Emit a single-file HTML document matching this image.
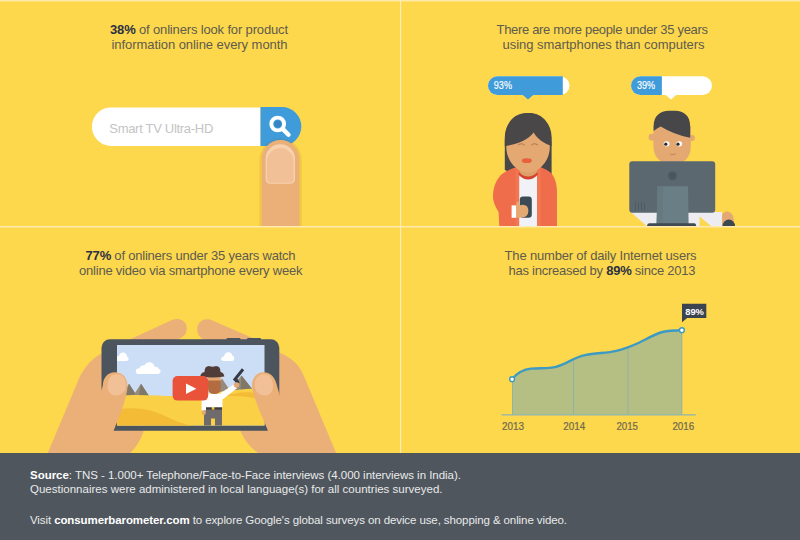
<!DOCTYPE html>
<html><head><meta charset="utf-8">
<style>
html,body{margin:0;padding:0;background:#FDD74C;}
body{width:800px;height:540px;overflow:hidden;font-family:"Liberation Sans",sans-serif;}
svg{display:block;font-family:"Liberation Sans",sans-serif;}
.t{font-size:13px;fill:#5E5C4E;}
.b{font-weight:bold;fill:#2C3143;}
.f{font-size:11.5px;fill:#E9EAEB;}
.fb{font-weight:bold;fill:#FFFFFF;}
.yr{font-size:10px;fill:#6E6A4E;stroke:#6E6A4E;stroke-width:0.2px;}
</style></head>
<body>
<svg width="800" height="540" viewBox="0 0 800 540">
<rect width="800" height="540" fill="#FDD74C"/>
<!-- dividers -->
<rect x="0" y="0" width="800" height="1.5" fill="#FFE9A6"/>
<rect x="0" y="226" width="800" height="1.5" fill="#FFEBB0"/>
<rect x="400" y="0" width="1.2" height="453" fill="#FFEBB8"/>

<!-- TL text -->
<text class="t" x="110" y="34" textLength="178" lengthAdjust="spacing"><tspan class="b">38%</tspan> of onliners look for product</text>
<text class="t" x="111.5" y="49" textLength="176" lengthAdjust="spacing">information online every month</text>
<!-- TR text -->
<text class="t" x="496.5" y="34" textLength="211.5" lengthAdjust="spacing">There are more people under 35 years</text>
<text class="t" x="502.5" y="49" textLength="202" lengthAdjust="spacing">using smartphones than computers</text>
<!-- BL text -->
<text class="t" x="85.6" y="260" textLength="210" lengthAdjust="spacing"><tspan class="b">77%</tspan> of onliners under 35 years watch</text>
<text class="t" x="79" y="275" textLength="223.5" lengthAdjust="spacing">online video via smartphone every week</text>
<!-- BR text -->
<text class="t" x="504.6" y="260" textLength="192" lengthAdjust="spacing">The number of daily Internet users</text>
<text class="t" x="508.5" y="275" textLength="187" lengthAdjust="spacing">has increased by <tspan class="b">89%</tspan> since 2013</text>

<!-- SEARCH -->
<g id="search">
<path d="M111.2 107.4 H260.5 V146 H111.2 A19.3 19.3 0 0 1 111.2 107.4Z" fill="#FFFFFF"/>
<path d="M260.5 107 H281.8 A19.5 19.5 0 0 1 281.8 146 H260.5Z" fill="#3F9BD9"/>
<text x="109.3" y="132.6" font-size="13" fill="#C4C4C4" textLength="104" lengthAdjust="spacing">Smart TV Ultra-HD</text>
<circle cx="277.7" cy="124" r="6.4" fill="none" stroke="#FFFFFF" stroke-width="3.9"/>
<circle cx="277.7" cy="124" r="3.4" fill="#3585C3"/>
<path d="M283.4 129.6 L288.5 134.8" stroke="#FFFFFF" stroke-width="4.4" stroke-linecap="round"/>
<!-- finger -->
<path d="M259.2 226 V160.5 A21.3 22.3 0 0 1 301.8 160.5 V226Z" fill="#8A5A00" fill-opacity="0.10"/>
<path d="M261.6 226 V159.6 A18.9 19.6 0 0 1 299.4 159.6 V226Z" fill="#EAB078"/>
<path d="M265.6 179.2 V158.6 A14.7 14.4 0 0 1 295 158.6 V179.2 A4.6 4.6 0 0 1 290.4 183.8 H270.2 A4.6 4.6 0 0 1 265.6 179.2Z" fill="#F6D2AF"/>
<path d="M266.9 179 V161.6 A13.4 13.6 0 0 1 293.7 161.6 V179 A3.6 3.6 0 0 1 290.1 182.8 H270.5 A3.6 3.6 0 0 1 266.9 179Z" fill="#F1C097"/>
</g>


<!-- BUBBLES -->
<g id="bubbles">
<rect x="488" y="76.3" width="81.5" height="18.8" rx="9.4" fill="#FFFFFF"/>
<path d="M497.4 76.3 H562.8 V95.1 H497.4 A9.4 9.4 0 0 1 497.4 76.3Z" fill="#3F9BD9"/>
<path d="M522.5 94.8 H533.5 L528 99.6Z" fill="#3F9BD9"/>
<text x="493.8" y="88.9" font-size="10.4" fill="#FFFFFF" stroke="#FFFFFF" stroke-width="0.15" textLength="18.2" lengthAdjust="spacingAndGlyphs">93%</text>
<rect x="631" y="76.3" width="81" height="18.8" rx="9.4" fill="#FFFFFF"/>
<path d="M640.4 76.3 H661.9 V95.1 H640.4 A9.4 9.4 0 0 1 640.4 76.3Z" fill="#3F9BD9"/>
<path d="M665.5 94.8 H676.5 L671 99.6Z" fill="#FFFFFF"/>
<text x="637" y="88.9" font-size="10.4" fill="#FFFFFF" stroke="#FFFFFF" stroke-width="0.15" textLength="18.2" lengthAdjust="spacingAndGlyphs">39%</text>
</g>

<!-- GIRL -->
<g id="girl">
<!-- back hair -->
<path d="M504.8 170 V137 A23.4 24 0 0 1 551.6 137 V174.5 L540 176 H515 L507 171Z" fill="#4A4749"/>
<!-- jacket -->
<path d="M499.3 226 L498.6 212 C494.5 206 492.6 200 493 195 C493.4 186 497 178.5 502 174 C506 171 511 169 515 167.5 L540.5 167 C545 169 549 171 551.5 173.5 C555.5 178.5 557 185 557 192.5 V226Z" fill="#EF6D4A"/>
<path d="M515.6 168 H519.2 V226 H515.6Z" fill="#F27651"/>
<path d="M537 168 H540.8 V226 H537Z" fill="#F27651"/>
<!-- shirt -->
<path d="M519.2 174 H537 V226 H519.2Z" fill="#F1F2F7"/>
<!-- neck + collar -->
<path d="M519.5 163 H537.2 V172.5 Q528 182 519.5 172.5Z" fill="#DE9F6A"/>
<path d="M518.8 172 Q528 181 537.6 172 L537.6 175 Q528 184 518.8 175Z" fill="#D4432E"/>
<!-- face -->
<path d="M506.3 138 C506.3 128 514 124 528 124 C542 124 549.8 128 549.8 138 L549.8 147 C549.8 160 540 172.4 528 172.4 C516 172.4 506.3 160 506.3 147Z" fill="#E4A973"/>
<!-- bangs -->
<path d="M504.8 146 C504.3 124 512 113 528 113 C544 113 552 124 551.6 146 C545 144 537 139 533.6 132.5 C528 140 516 145 504.8 146Z" fill="#4A4749"/>
<!-- eyes -->
<path d="M518.6 144.8 Q521.4 142.8 524.2 144.8" stroke="#B77E4E" stroke-width="1.1" fill="none" stroke-linecap="round"/>
<path d="M531.8 144.8 Q534.6 142.8 537.4 144.8" stroke="#B77E4E" stroke-width="1.1" fill="none" stroke-linecap="round"/>
<!-- lips -->
<ellipse cx="526.8" cy="160.7" rx="5" ry="2.4" fill="#E8603C"/>
<!-- phone -->
<rect x="519.8" y="196.6" width="12" height="21.1" rx="3.2" fill="#3C4A55"/>
<!-- cuff & hand -->
<rect x="511.6" y="205.4" width="4.8" height="12.4" fill="#FFFFFF"/>
<path d="M516.2 205.6 L516.6 202.5 Q517.8 200.6 519.2 202.5 L519.6 205.6 Q521 204.8 522.6 204.8 Q528.4 205 528.4 210.8 Q528.2 217 522 217.6 L516.2 217.8Z" fill="#E4A973"/>
</g>


<!-- MAN -->
<g id="man">
<!-- ears -->
<circle cx="652" cy="137.2" r="3.4" fill="#E4A973"/>
<circle cx="692" cy="138" r="2.9" fill="#E4A973"/>
<!-- face -->
<path d="M653.4 126 H690.8 V146 C690.8 156 686 164 672 164 C659 164 653.4 156 653.4 146Z" fill="#E4A973"/>
<!-- hair -->
<path d="M653.6 131 V126.5 C653.6 116 660 110.8 669 110.8 H675 C684 110.8 690.2 116 690.2 126.5 V137.8 Q674 134.5 660.7 126.4 Q657 128 653.6 131Z" fill="#474648"/>
<!-- eyes -->
<ellipse cx="666.6" cy="143.8" rx="2.9" ry="2.6" fill="#FFFFFF"/>
<ellipse cx="679.2" cy="143.8" rx="2.9" ry="2.6" fill="#FFFFFF"/>
<circle cx="665.8" cy="144.2" r="1.6" fill="#2A2A2E"/>
<circle cx="678" cy="144.2" r="1.6" fill="#2A2A2E"/>
<path d="M670.5 154.2 Q673 155.3 675.5 153.8" stroke="#C98A57" stroke-width="1.2" fill="none" stroke-linecap="round"/>
<!-- arms/shirt -->
<path d="M632 212 H722 V226 H711 L699.6 216.5 V226 H646.5 L632 213Z" fill="#ECECF1"/>
<!-- hand & mouse -->
<path d="M722 226 V216 Q722.5 211.5 727.5 211.5 Q734 212.5 733.8 222 V226Z" fill="#E4A973"/>
<path d="M722.6 226 A6.2 6.4 0 0 1 735 226Z" fill="#3D4750"/>
<!-- monitor -->
<rect x="629.3" y="161.2" width="85.9" height="51.6" rx="3" fill="#5B6870"/>
<circle cx="672.5" cy="175.8" r="4.6" fill="#4E5A62"/>
<circle cx="672.5" cy="175.8" r="2.2" fill="#48535B"/>
<g stroke="#4E5A62" stroke-width="1">
<path d="M635.5 201.5 V210.5 M638.5 203 V210.5 M641.5 201.5 V210.5 M644.5 203 V210.5"/>
</g>
<!-- stand -->
<path d="M657.5 186.3 H688 L688.6 224 H656.6Z" fill="#6A7E85"/>
<path d="M657.5 186.3 H663 L662.5 224 H656.6Z" fill="#66797F"/>
<path d="M649 223.2 H694.5 Q696 223.2 696.2 226 H647 Q647.3 223.2 649 223.2Z" fill="#3F4951"/>
</g>

<!-- CHART -->
<g id="chart">
<path d="M512 379.2 C518 372 524 369.2 531 368.6 C541 367.8 548 368.8 556 366.8 C566 364.2 574 357.5 585 355.2 C596 352.8 606 353.2 616.5 350.8 C625 348.8 632 346 639.5 342.5 C648 338.2 655 334 662.5 332 C669 330.3 675 330.2 682 330.2 V415 H512Z" fill="#B5BF84"/>
<g stroke="#8FB3A4" stroke-width="1">
<path d="M573.5 359.5 V415 M628 347.5 V415 M512.5 379 V415 M681.8 331 V415"/>
</g>
<rect x="501.5" y="414.2" width="194.3" height="1.3" fill="#93B6AC"/>
<path d="M512 379.2 C518 372 524 369.2 531 368.6 C541 367.8 548 368.8 556 366.8 C566 364.2 574 357.5 585 355.2 C596 352.8 606 353.2 616.5 350.8 C625 348.8 632 346 639.5 342.5 C648 338.2 655 334 662.5 332 C669 330.3 675 330.2 682 330.2" fill="none" stroke="#3D9AC2" stroke-width="2.4" stroke-linecap="round"/>
<circle cx="512.1" cy="379.2" r="2.4" fill="#FFFFFF" stroke="#3D9AC2" stroke-width="1.4"/>
<circle cx="681.9" cy="330.2" r="2.4" fill="#FFFFFF" stroke="#3D9AC2" stroke-width="1.4"/>
<path d="M682 303.8 H706.3 V318 H687.2 L682 322.3Z" fill="#3B4351"/>
<text x="685.2" y="314.5" font-size="9.9" font-weight="bold" fill="#FFFFFF" textLength="18.7" lengthAdjust="spacingAndGlyphs">89%</text>
<text class="yr" x="502" y="430.4" textLength="22" lengthAdjust="spacingAndGlyphs">2013</text>
<text class="yr" x="563.3" y="430.4" textLength="21.8" lengthAdjust="spacingAndGlyphs">2014</text>
<text class="yr" x="616.5" y="430.4" textLength="21.5" lengthAdjust="spacingAndGlyphs">2015</text>
<text class="yr" x="672.4" y="430.4" textLength="21.8" lengthAdjust="spacingAndGlyphs">2016</text>
</g>


<!-- PHONE + HANDS -->
<g id="phone">
<defs><clipPath id="scr"><rect x="117" y="345" width="147.5" height="80.6"/></clipPath>
<clipPath id="q3"><rect x="0" y="228" width="400" height="225.5"/></clipPath></defs>
<g clip-path="url(#q3)">
<!-- left hand back: index finger + palm -->
<path d="M172.5 319.8 C178 317.6 184.4 319.6 186.2 325 C188 330.6 185.6 336 180 338.4 L160 347 H132 L128.2 340.2Z" fill="#EAB077"/>
<path d="M106 351.5 C98 354.5 90.5 360.5 85.5 367.5 C82.5 371.5 80.5 375 79 378.5 L47.6 453.5 H130 C136 447 141 440 143.5 431 L120 360Z" fill="#EAB077"/>
<!-- right hand back -->
<path d="M210 319.6 C204 318 198.4 321.4 197.3 327.4 C196.4 333.4 200 338.6 206 340.4 L225 347 H254 L256.5 339.8Z" fill="#EAB077"/>
<path d="M275 351 C284 354 292 358.5 297.5 365 C300.5 369 302.8 373 304.3 377 L336.3 453.5 H258.5 C250 447 244 440 240.5 431 L262 360Z" fill="#EAB077"/>
<!-- phone body -->
<rect x="226.5" y="338" width="14" height="3" rx="1" fill="#4C545D"/>
<rect x="247" y="338" width="14" height="3" rx="1" fill="#4C545D"/>
<rect x="101.5" y="339.3" width="177.8" height="91.4" rx="8.5" fill="#4C545D"/>
<!-- screen -->
<g clip-path="url(#scr)">
<rect x="117" y="345" width="148" height="81" fill="#CCDDF6"/>
<!-- mountains -->
<path d="M121.5 396 L129 383.8 L135 393 L141 383.8 L149 396Z" fill="#948B7C"/>
<path d="M129 383.8 L135 393 L133 396 H126Z" fill="#7F7768"/>
<path d="M141 383.8 L149 396 H139Z" fill="#7F7768"/>
<path d="M213 392 L222 378.5 L231 392Z" fill="#948B7C"/>
<path d="M228 392 L241.5 375.4 L254.5 392Z" fill="#948B7C"/>
<path d="M241.5 375.4 L254.5 392 H240.5Z" fill="#7F7768"/>
<!-- sand -->
<path d="M117 396 C140 393.5 160 396.5 180 396 C205 395.3 235 388 265 388.5 V426 H117Z" fill="#FAD046"/>
<path d="M117 409.5 C135 406.5 150 409 165 416 C175 420.5 183 424.5 195 426 H117Z" fill="#F4BC36"/>
<path d="M225 396 C240 391 252 391.5 265 395 V401 C250 396 238 396 225 396Z" fill="#F4BC36"/>
<!-- clouds -->
<g fill="#FFFFFF">
<path d="M114 361 Q114 356 119 356 Q120 352 123.5 352.5 Q127 353 127 356.5 Q129 357.5 128.5 359.5 Q128 361 126 361Z"/>
<path d="M138.5 374 Q135.5 374 135.8 371 Q136 368.5 139.5 368.3 Q140.5 364.8 144.5 365.2 Q146 361.8 150 362.2 Q154 362.8 154.5 366.8 Q158 366.5 159 369 Q161 369.5 160.5 372 Q160 374 157.5 374Z"/>
<path d="M223.5 361 Q221 361 221.2 358.6 Q221.5 356.5 224 356.5 Q224.5 352.8 228 352.2 Q231.5 352 232.3 355.5 Q234.5 356 234.3 358.8 Q234 361 232 361Z"/>
</g>
<!-- cowboy -->
<g id="cowboy">
<!-- gun -->
<path d="M232.9 379.4 L241.9 368.3 L244.2 370.2 L237.4 378.8 L239.6 382.4 L237 384.2 L234.6 381.2Z" fill="#353A46"/>
<!-- raised arm -->
<path d="M220.5 393 L234 384.6 L237 388.2 L222.5 399.5Z" fill="#FFFFFF"/>
<circle cx="236.6" cy="385" r="2.7" fill="#E4A973"/>
<!-- pants -->
<path d="M204 407 H222 V426 H215 V418.5 H211 V426 H204Z" fill="#6F6B6C"/>
<rect x="204" y="407" width="18" height="2.6" fill="#3E3C40"/>
<rect x="211.8" y="407" width="2.6" height="2.6" fill="#F2C230"/>
<!-- shirt -->
<path d="M201.6 398 Q201.6 393.6 206 393.6 H218.5 Q222.5 393.6 222.5 398 V407.2 H206 V410.5 H201.6Z" fill="#FFFFFF"/>
<rect x="201.8" y="410.3" width="4" height="4.6" rx="1.8" fill="#E4A973"/>
<!-- head -->
<rect x="208" y="375" width="12.8" height="8" fill="#E4A973"/>
<path d="M208 380.5 H220.8 V388 Q220.8 394 214.4 394 Q208 394 208 388Z" fill="#B36C40"/>
<!-- hat -->
<path d="M200.3 376.4 Q200.6 372.6 204.5 372 Q204.5 366 209 366 Q212.5 367.6 216 366 Q220.5 366 220.5 372 Q224 372.6 224.3 376.4 Q212.5 378.6 200.3 376.4Z" fill="#503C39"/>
</g>
<!-- play button -->
<rect x="172.6" y="376" width="35.6" height="24.6" rx="5" fill="#E8533A"/>
<path d="M186 383.4 V394 L196.4 388.7Z" fill="#FFFFFF"/>
</g>
<!-- left thumb -->
<path d="M102.8 386 C102.8 377.5 108 372.3 115 372.3 C122.5 372.3 127.6 378 127.4 386 C127 397 121 413 113.5 431 L96 445 L90 420Z" fill="#EAB077"/>
<path d="M125.8 386 C126.2 378.5 122.6 374.2 117 374.2 C111.2 374.2 108 378.2 107.6 385 C107.3 391.5 110.6 395.4 115.6 395.4 C121.6 395.4 125.4 392 125.8 386Z" fill="#F1C097"/>
<!-- right thumb -->
<path d="M252 385.5 C252 377.5 257 372.3 263.5 372.3 C270 372.3 274.5 376.5 276.5 384 L281 400 L290 440 L268 431 C262 415 252.5 397 252 385.5Z" fill="#EAB077"/>
<path d="M254.8 386 C254.4 378.5 258 374.2 263.6 374.2 C269.4 374.2 272.6 378.2 273 385 C273.3 391.5 270 395.4 265 395.4 C259 395.4 255.2 392 254.8 386Z" fill="#F1C097"/>
</g>
</g>

<!-- FOOTER -->
<rect x="0" y="453" width="800" height="87" fill="#4F565D"/>
<text class="f" x="30" y="479" textLength="431" lengthAdjust="spacing"><tspan class="fb">Source</tspan>: TNS - 1.000+ Telephone/Face-to-Face interviews (4.000 interviews in India).</text>
<text class="f" x="30" y="493" textLength="412.5" lengthAdjust="spacing">Questionnaires were administered in local language(s) for all countries surveyed.</text>
<text class="f" x="30" y="524" textLength="537" lengthAdjust="spacing">Visit <tspan class="fb">consumerbarometer.com</tspan> to explore Google's global surveys on device use, shopping &amp; online video.</text>
</svg>
</body></html>
